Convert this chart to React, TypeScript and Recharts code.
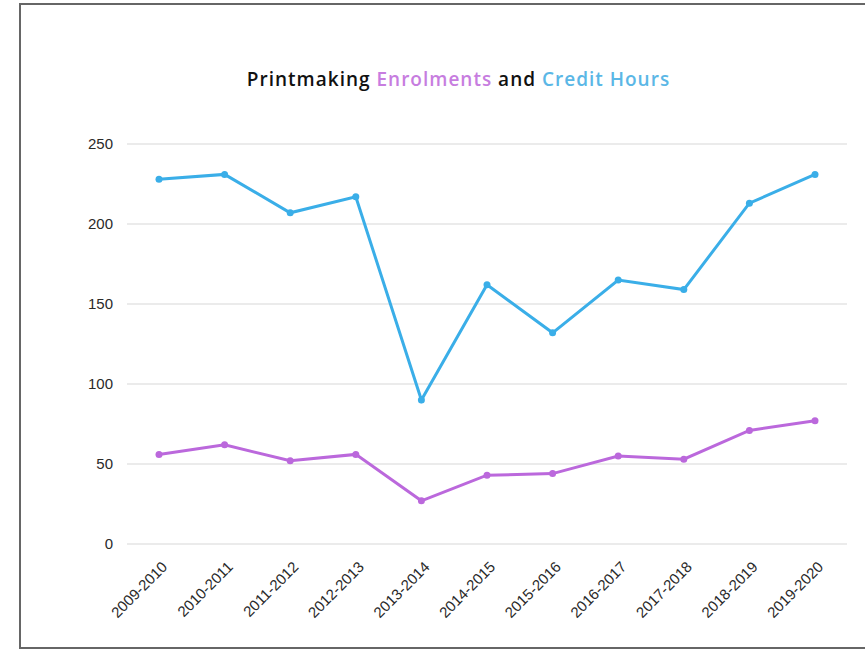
import React from 'react';
import { LineChart, Line, XAxis, YAxis, CartesianGrid } from 'recharts';

const years = [
  '2009-2010', '2010-2011', '2011-2012', '2012-2013', '2013-2014', '2014-2015',
  '2015-2016', '2016-2017', '2017-2018', '2018-2019', '2019-2020',
];
const creditHours = [228, 231, 207, 217, 90, 162, 132, 165, 159, 213, 231];
const enrolments = [56, 62, 52, 56, 27, 43, 44, 55, 53, 71, 77];
const yTicks = [0, 50, 100, 150, 200, 250];

const BLUE = '#3aaee8';
const PURPLE = '#bb68dc';

const data = years.map((year, i) => ({
  year,
  credit: creditHours[i],
  enrol: enrolments[i],
}));

const XTick = (props: any) => {
  const { x, y, payload } = props;
  return (
    <text
      x={x}
      y={y}
      transform={`rotate(-45, ${x}, ${y})`}
      textAnchor="end"
      dx={-9}
      dy={22}
      fill="#2a2a2a"
      fontSize={15}
      fontFamily="'Liberation Sans', Arial, sans-serif"
    >
      {payload.value}
    </text>
  );
};

export default function App() {
  return (
    <div style={{ position: 'absolute', left: 0, top: 0, width: 865, height: 652, background: '#fff', overflow: 'hidden' }}>
      {/* frame, right edge falls outside the picture */}
      <div
        style={{
          position: 'absolute', left: 19, top: 3, width: 900, height: 646,
          border: '2px solid #666', boxSizing: 'border-box',
        }}
      />
      <div
        style={{
          position: 'absolute', left: 0, top: 66, width: 917, textAlign: 'center',
          fontFamily: "'Open Sans', sans-serif", fontWeight: 600, fontSize: 19,
          letterSpacing: 1, color: '#111',
        }}
      >
        Printmaking <span style={{ color: '#c77ddf' }}>Enrolments</span> and{' '}
        <span style={{ color: '#5bb7e6' }}>Credit Hours</span>
      </div>
      <div style={{ position: 'absolute', left: 0, top: 0 }}>
        <LineChart
          width={865}
          height={652}
          data={data}
          margin={{ top: 144, right: 18, bottom: 0, left: 0 }}
        >
          <CartesianGrid vertical={false} stroke="#e4e4e4" strokeWidth={1.5} />
          <XAxis
            dataKey="year"
            axisLine={false}
            tickLine={false}
            tickSize={0}
            interval={0}
            padding={{ left: 32, right: 32 }}
            tick={<XTick />}
            height={108}
          />
          <YAxis
            width={127}
            domain={[0, 250]}
            ticks={yTicks}
            axisLine={false}
            tickLine={false}
            tickSize={0}
            tickMargin={14}
            tick={{ fill: '#2a2a2a', fontSize: 15, fontFamily: "'Liberation Sans', Arial, sans-serif" }}
          />
          <Line
            dataKey="credit"
            stroke={BLUE}
            strokeWidth={3}
            dot={{ r: 3.5, fill: BLUE, stroke: BLUE, strokeWidth: 0 }}
            isAnimationActive={false}
          />
          <Line
            dataKey="enrol"
            stroke={PURPLE}
            strokeWidth={3}
            dot={{ r: 3.5, fill: PURPLE, stroke: PURPLE, strokeWidth: 0 }}
            isAnimationActive={false}
          />
        </LineChart>
      </div>
    </div>
  );
}
